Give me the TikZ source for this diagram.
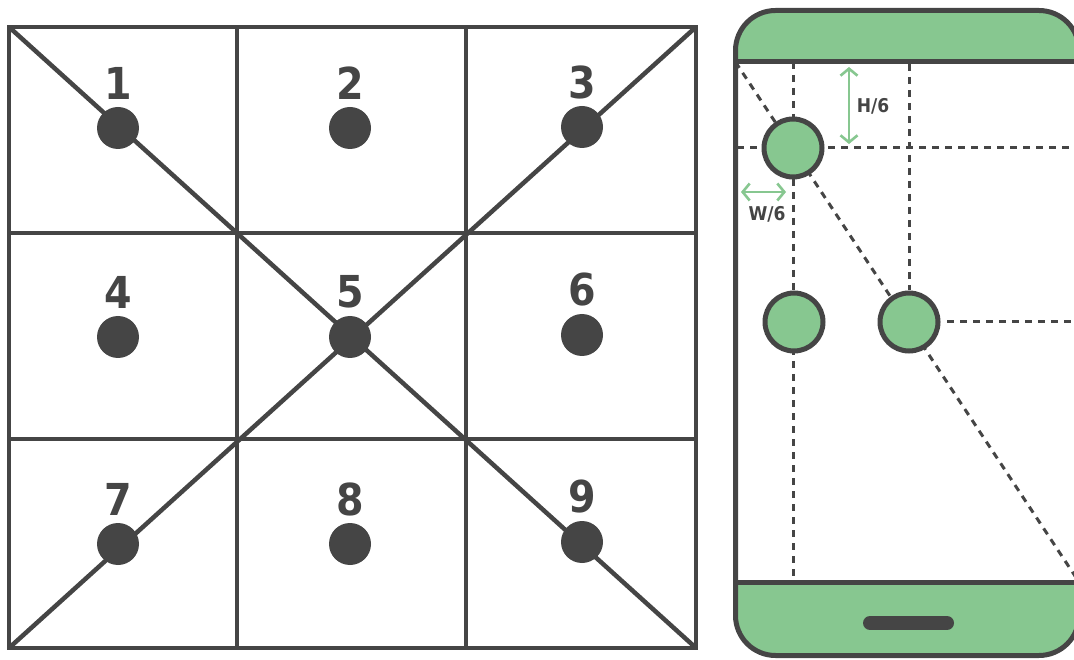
\documentclass[tikz,border=0pt]{standalone}
\usepackage{fontspec}
\setmainfont{DejaVu Sans}
\newfontfamily\labfont{DejaVu Sans Condensed}
\usetikzlibrary{arrows.meta}
\definecolor{dark}{HTML}{454545}
\definecolor{leaf}{HTML}{87C790}
\tikzset{
  gridline/.style={draw=dark, line width=4.5pt},
  dot/.style={circle, fill=dark, minimum size=42pt, inner sep=0pt},
  numlabel/.style={text=dark, font=\labfont\bfseries\fontsize{44}{50}\selectfont, inner sep=0pt},
  dashline/.style={draw=dark, line width=3pt, dash pattern=on 7pt off 6pt},
  gcircle/.style={circle, fill=leaf, draw=dark, line width=5pt, minimum size=58pt, inner sep=0pt},
  measure/.style={draw=leaf, line width=2.6pt, {Straight Barb[length=7pt,width=17pt]}-{Straight Barb[length=7pt,width=17pt]}},
  smalllabel/.style={text=dark, font=\labfont\bfseries\fontsize{19}{22}\selectfont, inner sep=0pt},
}
\begin{document}
\begin{tikzpicture}[x=1pt,y=-1pt]
\useasboundingbox (0,0) rectangle (1074,660);
% ---------- grid ----------
\coordinate (gtl) at (9,27);
\coordinate (gtr) at (696,27);
\coordinate (gbl) at (9,648);
\coordinate (gbr) at (696,648);
\draw[gridline] (gtl) -- (gbr);
\draw[gridline] (gtr) -- (gbl);
\draw[gridline] (237,27) -- (237,648);
\draw[gridline] (466,27) -- (466,648);
\draw[gridline] (9,233) -- (696,233);
\draw[gridline] (9,439) -- (696,439);
\draw[gridline] (gtl) rectangle (gbr);
% dots and labels
\foreach \n/\x/\y in {1/118/128, 2/350/128, 3/582/127,
                      4/118/337, 5/350/337, 6/582/335,
                      7/118/544, 8/350/544, 9/582/542}{
  \node[dot] (d\n) at (\x,\y) {};
  \node[numlabel] (l\n) at (\x,\y-45) {\n};
}
% ---------- phone ----------
\fill[leaf, rounded corners=40pt] (735.5,10.5) rectangle (1079,655.5);
\fill[white] (735.5,62) rectangle (1079,582);
\coordinate (stl) at (735.5,62);
\coordinate (sbr) at (1079,582);
% dashed guides
\draw[dashline] (793,62) -- (793,582);
\draw[dashline] (909,64) -- (909,290);
\draw[dashline] (737,148) -- (1079,148);
\draw[dashline] (947,322) -- (1079,322);
\draw[dashline] (stl) -- (sbr);
% phone outline
\draw[dark, line width=5pt, rounded corners=40pt] (735.5,10.5) rectangle (1079,655.5);
\draw[dark, line width=5pt] (735.5,62) -- (1079,62);
\draw[dark, line width=5pt] (735.5,582) -- (1079,582);
\draw[dark, line width=14pt, line cap=round] (870,623) -- (947,623);
% circles
\node[gcircle] (c1) at (793,148) {};
\node[gcircle] (c2) at (794,322) {};
\node[gcircle] (c3) at (909,322) {};
% measures
\coordinate (ha) at (849,67);
\coordinate (hb) at (849,144);
\draw[measure] (ha) -- (hb);
\node[smalllabel] (hl) at (873,106) {H/6};
\coordinate (wa) at (741,192);
\coordinate (wb) at (786,192);
\draw[measure] (wa) -- (wb);
\node[smalllabel] (wl) at (767,214) {W/6};
\end{tikzpicture}
\end{document}
